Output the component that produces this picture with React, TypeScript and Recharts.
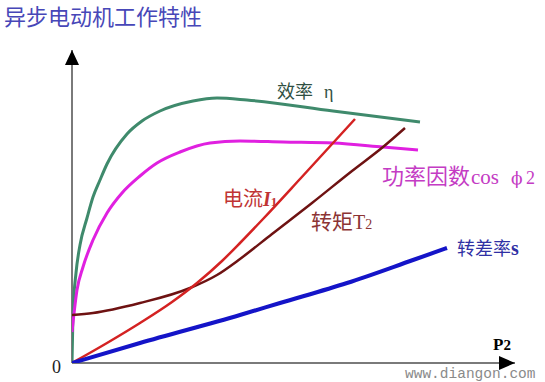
import React from 'react';
import { LineChart, Line, XAxis, YAxis, ReferenceLine } from 'recharts';

// curve points: [P2, value] in plot units
const efficiency: [number, number][] = [
  [0, 0], [1, 50], [4, 90], [8, 118], [15, 145], [21, 166], [28, 183], [35, 199],
  [55, 229], [70, 242], [88, 252], [121, 262], [145, 265], [175, 263], [261, 252], [348, 241],
];
const powerFactor: [number, number][] = [
  [0, 31], [5, 73], [11, 96], [21, 123], [35, 150], [50, 170], [68, 187], [85, 200],
  [108, 211], [138, 220], [168, 222], [211, 221], [261, 220], [311, 216], [346, 213],
];
const torque: [number, number][] = [
  [0, 48], [21, 50], [68, 60], [118, 75], [145, 88], [168, 104], [200, 129],
  [240, 160], [280, 192], [311, 216], [333, 235],
];
const current: [number, number][] = [
  [0, 0], [35, 20], [68, 40], [100, 61], [125, 80], [150, 102], [168, 120],
  [191, 144], [228, 184], [261, 220], [283, 244],
];
const slip: [number, number][] = [
  [0, 0], [68, 20], [168, 48], [208, 60], [275, 80], [341, 103], [375, 115],
];

const toRows = (pts: [number, number][]) => pts.map(([x, y]) => ({ x, y }));

const W = 545;
const H = 382;
const CJK = '"Noto Sans CJK SC", "Noto Sans", sans-serif';
const SERIF = '"Liberation Serif", "DejaVu Serif", serif';

const AxisArrow = (props: any) => {
  const { x1, y1, x2, y2 } = props;
  const vertical = Math.abs(x2 - x1) < Math.abs(y2 - y1);
  const head = vertical
    ? `${x2},${y2} ${x2 - 7},${y2 + 15} ${x2 + 7},${y2 + 15}`
    : `${x2},${y2} ${x2 - 16},${y2 - 7} ${x2 - 16},${y2 + 7}`;
  return (
    <g>
      <line x1={x1} y1={y1} x2={x2} y2={y2} stroke="#7a7a7a" strokeWidth={2} />
      <polygon points={head} fill="#000" />
    </g>
  );
};

const series = [
  { key: 'eff', data: efficiency, color: '#3f8a6c', width: 3 },
  { key: 'pf', data: powerFactor, color: '#e020e0', width: 3 },
  { key: 'tq', data: torque, color: '#6e1212', width: 2.5 },
  { key: 'cur', data: current, color: '#d42222', width: 2.5 },
  { key: 'slip', data: slip, color: '#1414c8', width: 4 },
];

export default function App() {
  return (
    <div style={{ position: 'absolute', left: 0, top: 0, width: W, height: H, background: '#fff' }}>
      <LineChart width={W} height={H} margin={{ top: 50, right: 20, bottom: 19, left: 72 }}>
        <XAxis type="number" dataKey="x" domain={[0, 453]} hide allowDataOverflow />
        <YAxis type="number" dataKey="y" domain={[0, 313]} hide allowDataOverflow />
        <ReferenceLine segment={[{ x: 0, y: 0 }, { x: 0, y: 313 }]} shape={AxisArrow} ifOverflow="visible" />
        <ReferenceLine segment={[{ x: 0, y: 0 }, { x: 443, y: 0 }]} shape={AxisArrow} ifOverflow="visible" />
        {series.map((s) => (
          <Line
            key={s.key}
            data={toRows(s.data)}
            dataKey="y"
            type="monotone"
            stroke={s.color}
            strokeWidth={s.width}
            dot={false}
            activeDot={false}
            isAnimationActive={false}
          />
        ))}
      </LineChart>
      <svg width={W} height={H} style={{ position: 'absolute', left: 0, top: 0, pointerEvents: 'none' }}>
        <text x={4} y={25} fontSize={22} fill="#4747b8" fontFamily={CJK}>异步电动机工作特性</text>
        <text x={277} y={98} fontSize={18} fill="#2f4f42" fontFamily={CJK}>
          效率<tspan x={324} fontFamily={SERIF}>η</tspan>
        </text>
        <text x={382} y={184} fontSize={22} fill="#c43cc4" fontFamily={CJK}>
          功率因数
          <tspan x={471} fontFamily={SERIF} fontSize={21}>cos</tspan>
          <tspan x={511} fontFamily={'"DejaVu Serif", serif'} fontSize={17}>ϕ</tspan>
          <tspan x={526} fontFamily={SERIF} fontSize={18}>2</tspan>
        </text>
        <text x={223} y={206} fontSize={20} fill="#c03434" fontFamily={CJK}>
          电流<tspan fontFamily={SERIF} fontWeight="bold" fontStyle="italic">I</tspan><tspan fontFamily={SERIF} fontSize={13} fontWeight="bold">1</tspan>
        </text>
        <text x={311} y={229} fontSize={21} fill="#8c3434" fontFamily={CJK}>
          转矩<tspan fontFamily={SERIF} fontSize={20}>T</tspan><tspan fontFamily={SERIF} fontSize={14}>2</tspan>
        </text>
        <text x={457} y={255} fontSize={18} fill="#3030a4" fontFamily={CJK}>
          转差率<tspan fontFamily={SERIF} fontWeight="bold" fontSize={20}>s</tspan>
        </text>
        <text x={493} y={350} fontSize={17} fontWeight="bold" fill="#000" fontFamily={SERIF}>P<tspan fontSize={15}>2</tspan></text>
        <text x={52} y={373} fontSize={18} fill="#222" fontFamily={SERIF}>0</text>
        <text x={405} y={378} fontSize={14.5} fill="#8a8a8a" fontFamily={'"Liberation Mono", monospace'}>www.diangon.com</text>
      </svg>
    </div>
  );
}
